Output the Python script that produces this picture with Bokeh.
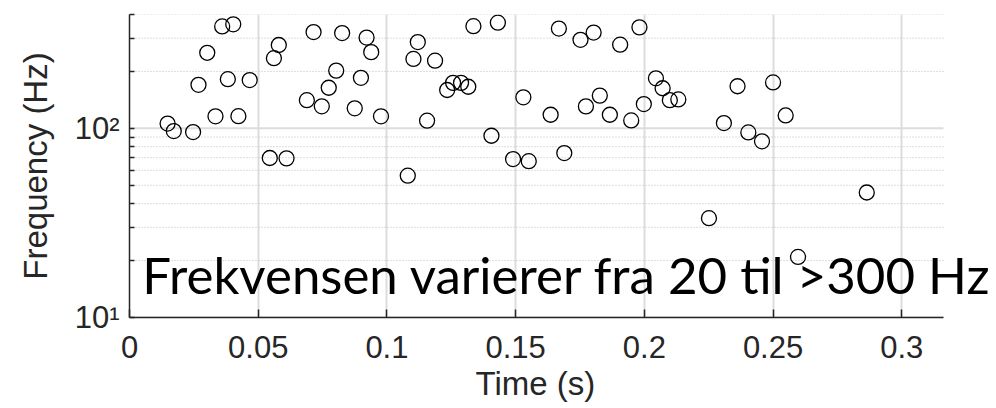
from bokeh.plotting import figure
from bokeh.models import FixedTicker, Label, Range1d, CustomJSTickFormatter, Title
from bokeh.embed import file_html
from bokeh.resources import INLINE

# Data
time_s = [0.0148, 0.0172, 0.0247, 0.0268, 0.0302, 0.0334, 0.0360, 0.0382, 0.0403, 0.0423,
          0.0467, 0.0545, 0.0561, 0.0580, 0.0610, 0.0689, 0.0715, 0.0747, 0.0774, 0.0803,
          0.0826, 0.0875, 0.0899, 0.0921, 0.0939, 0.0977, 0.1081, 0.1103, 0.1120, 0.1156,
          0.1187, 0.1234, 0.1257, 0.1288, 0.1316, 0.1336, 0.1406, 0.1431, 0.1490, 0.1530,
          0.1551, 0.1636, 0.1668, 0.1689, 0.1752, 0.1773, 0.1803, 0.1827, 0.1866, 0.1906,
          0.1949, 0.1981, 0.1998, 0.2045, 0.2071, 0.2099, 0.2132, 0.2251, 0.2309, 0.2362,
          0.2404, 0.2457, 0.2500, 0.2549, 0.2597, 0.2864]
freq_hz = [106, 96.8, 95.6, 170, 251, 115.8, 346, 182, 355, 116,
           180, 69.7, 235, 276, 69.4, 141, 323, 130.8, 164, 202,
           319, 127.6, 185, 302, 253, 115.8, 56.2, 233, 286, 109.8,
           228, 159.5, 174, 174, 166, 347, 91.4, 362, 68.8, 146,
           67.1, 118, 337, 74, 294, 130.7, 321, 149, 118, 277,
           110.2, 342, 134.4, 184, 163, 141, 142.3, 33.5, 106.7, 167,
           95.2, 85.4, 175, 117, 20.9, 45.8]

x_ticks = [0, 0.05, 0.1, 0.15, 0.2, 0.25, 0.3]
x_tick_labels = ["0", "0.05", "0.1", "0.15", "0.2", "0.25", "0.3"]
y_ticks = [10, 100]
y_tick_labels = ["10\u00b9", "10\u00b2"]
y_minor_ticks = [20, 30, 40, 50, 60, 70, 80, 90, 200, 300, 400]
x_label = "Time (s)"
y_label = "Frequency (Hz)"
annotation_text = "Frekvensen varierer fra 20 til >300 Hz"

AX = "#262626"
X_MAX = 0.3162      # end of the drawn axis
X_VIEW = 0.3368     # visible canvas extent (room for the overhanging annotation)

p = figure(width=996, height=408, output_backend="svg", toolbar_location=None,
           y_axis_type="log", x_range=Range1d(0, X_VIEW), y_range=Range1d(10, 400),
           min_border_left=129, min_border_right=0, min_border_top=14, min_border_bottom=91)
p.outline_line_color = None
p.background_fill_color = "white"
p.border_fill_color = "white"

# horizontal grid lines limited to the axis extent
n_maj = len(y_ticks)
n_min = len(y_minor_ticks)
p.segment(x0=[0] * n_min, x1=[X_MAX] * n_min, y0=y_minor_ticks, y1=y_minor_ticks,
          line_color="#bdbdbd", line_width=1, line_dash="1 2")
p.segment(x0=[0] * n_maj, x1=[X_MAX] * n_maj, y0=y_ticks, y1=y_ticks,
          line_color="#dcdcdc", line_width=2)

p.scatter(time_s, freq_hz, marker="circle", size=15, fill_color=None,
          line_color="black", line_width=1.3)

fmt_js = ("const i = tvals.findIndex(t => Math.abs(t - tick) < 1e-9 * Math.max(1, Math.abs(t)));"
          " return i >= 0 ? tlabels[i] : '';")

# X axis
p.xaxis.ticker = FixedTicker(ticks=x_ticks, minor_ticks=[])
p.xaxis.formatter = CustomJSTickFormatter(args=dict(tvals=x_ticks, tlabels=x_tick_labels), code=fmt_js)
p.xaxis.bounds = (0, X_MAX)
p.xaxis.major_tick_in = 8
p.xaxis.major_tick_out = 0
p.xaxis.minor_tick_in = 0
p.xaxis.minor_tick_out = 0
p.xaxis.major_label_standoff = 18

# Y axis
p.yaxis.ticker = FixedTicker(ticks=y_ticks, minor_ticks=y_minor_ticks)
p.yaxis.formatter = CustomJSTickFormatter(args=dict(tvals=y_ticks, tlabels=y_tick_labels), code=fmt_js)
p.yaxis.axis_label = y_label
p.yaxis.major_tick_in = 5
p.yaxis.major_tick_out = 0
p.yaxis.minor_tick_in = 5
p.yaxis.minor_tick_out = 0
p.yaxis.major_label_standoff = 10
p.yaxis.axis_label_standoff = 18

for ax in (p.xaxis, p.yaxis):
    ax.axis_line_color = AX
    ax.axis_line_width = 1.5
    ax.major_tick_line_color = AX
    ax.major_tick_line_width = 1.5
    ax.minor_tick_line_color = AX
    ax.minor_tick_line_width = 1.5
    ax.major_label_text_font = "Liberation Sans"
    ax.major_label_text_font_size = "31px"
    ax.major_label_text_color = AX
    ax.axis_label_text_font = "Liberation Sans"
    ax.axis_label_text_font_size = "33px"
    ax.axis_label_text_font_style = "normal"
    ax.axis_label_text_color = AX

# x-axis title, centred under the drawn axis (0 .. X_MAX)
p.add_layout(Title(text=x_label, align="left", offset=346, standoff=4,
                   text_font="Liberation Sans", text_font_size="33px",
                   text_font_style="normal", text_color=AX), "below")

# Grids
p.xgrid.ticker = FixedTicker(ticks=x_ticks)
p.xgrid.grid_line_color = "#dcdcdc"
p.xgrid.grid_line_width = 2
p.ygrid.visible = False

p.add_layout(Label(x=0.005, y=16.9, text=annotation_text, text_font="Lato",
                   text_font_size="51px", text_color="black", level="overlay",
                   text_baseline="alphabetic", text_align="left"))

open("out.html", "w").write(file_html(p, INLINE))
